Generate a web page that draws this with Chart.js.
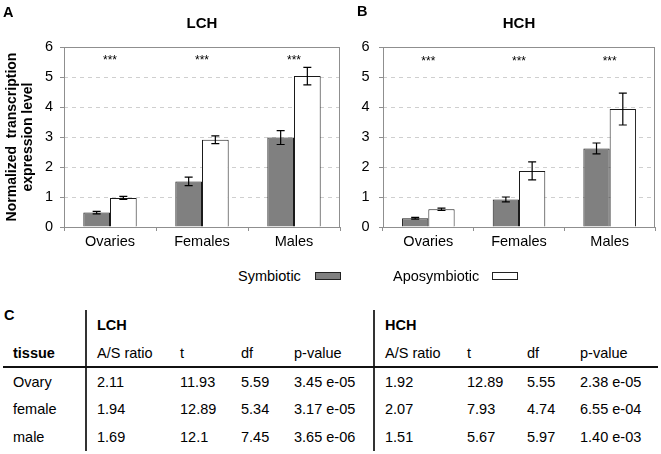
<!DOCTYPE html>
<html>
<head>
<meta charset="utf-8">
<script src="https://cdn.jsdelivr.net/npm/chart.js@4.4.0/dist/chart.umd.min.js"></script>
<style>
  body {
    margin: 0;
    width: 661px;
    height: 454px;
    background: #fff;
    position: relative;
    overflow: hidden;
    font-family: "Liberation Sans", Arial, sans-serif;
    color: #000;
  }
  canvas { position: absolute; top: 0; }
  .t { position: absolute; font-size: 14.5px; line-height: 18px; white-space: nowrap; }
  .b { font-weight: bold; }
  .rule { position: absolute; background: #222; }
  .box { position: absolute; width: 26px; height: 8px; border: 1px solid #222; box-sizing: border-box; }
</style>
</head>
<body>
<canvas id="chartA" width="345" height="260" style="left:0"></canvas>
<canvas id="chartB" width="341" height="260" style="left:320px"></canvas>
<div id="extras"></div>

<script>
const categories = ["Ovaries", "Females", "Males"];
const seriesNames = ["Symbiotic", "Aposymbiotic"];
const significance = ["***", "***", "***"];

// LCH panel
const lchSymbiotic = [0.48, 1.52, 2.98];
const lchSymbioticErr = [0.04, 0.14, 0.23];
const lchAposymbiotic = [0.97, 2.91, 5.03];
const lchAposymbioticErr = [0.05, 0.13, 0.29];

// HCH panel
const hchSymbiotic = [0.29, 0.92, 2.62];
const hchSymbioticErr = [0.03, 0.08, 0.18];
const hchAposymbiotic = [0.59, 1.87, 3.93];
const hchAposymbioticErr = [0.04, 0.3, 0.53];

const yMin = 0;
const yMax = 6;
const yStep = 1;

// table C
const tableGroups = ["LCH", "HCH"];
const tableColumns = ["A/S ratio", "t", "df", "p-value"];
const tissues = ["Ovary", "female", "male"];
const lchStats = [
  ["2.11", "11.93", "5.59", "3.45 e-05"],
  ["1.94", "12.89", "5.34", "3.17 e-05"],
  ["1.69", "12.1", "7.45", "3.65 e-06"],
];
const hchStats = [
  ["1.92", "12.89", "5.55", "2.38 e-05"],
  ["2.07", "7.93", "4.74", "6.55 e-04"],
  ["1.51", "5.67", "5.97", "1.40 e-03"],
];

const FONT = '"Liberation Sans", Arial, sans-serif';

// error bars from dataset.errors
const errorBars = {
  id: "errorBars",
  afterDatasetsDraw(chart) {
    const ctx = chart.ctx;
    const yScale = chart.scales.y;
    ctx.save();
    ctx.strokeStyle = "#000";
    ctx.lineWidth = 1.2;
    chart.data.datasets.forEach((ds, i) => {
      chart.getDatasetMeta(i).data.forEach((bar, j) => {
        const v = ds.data[j];
        const e = ds.errors[j];
        const top = yScale.getPixelForValue(v + e);
        const bot = yScale.getPixelForValue(v - e);
        ctx.beginPath();
        ctx.moveTo(bar.x, top);
        ctx.lineTo(bar.x, bot);
        ctx.moveTo(bar.x - 4, top);
        ctx.lineTo(bar.x + 4, top);
        ctx.moveTo(bar.x - 4, bot);
        ctx.lineTo(bar.x + 4, bot);
        ctx.stroke();
      });
    });
    ctx.restore();
  },
};

// plot frame, panel title and significance stars
const panelDecor = {
  id: "panelDecor",
  afterDraw(chart, args, opts) {
    const ctx = chart.ctx;
    const a = chart.chartArea;
    ctx.save();
    ctx.strokeStyle = "#8f8f8f";
    ctx.lineWidth = 1;
    ctx.strokeRect(a.left + 0.5, a.top + 0.5, a.right - a.left - 1, a.bottom - a.top);

    ctx.fillStyle = "#000";
    ctx.textAlign = "center";
    ctx.textBaseline = "middle";
    ctx.font = "bold 15px " + FONT;
    ctx.fillText(opts.text, (a.left + a.right) / 2, 24);

    ctx.font = "12px " + FONT;
    ctx.textBaseline = "alphabetic";
    significance.forEach((s, i) => {
      ctx.fillText(s, chart.scales.x.getPixelForValue(i), opts.starY);
    });
    ctx.restore();
  },
};

function makeChart(id, title, symb, symbErr, apo, apoErr, axisWidth, tickPad, padRight, yTitle, starY) {
  return new Chart(document.getElementById(id), {
    type: "bar",
    data: {
      labels: categories,
      datasets: [
        {
          label: seriesNames[0],
          data: symb,
          errors: symbErr,
          backgroundColor: "#808080",
          borderColor: "#1a1a1a",
          borderWidth: 1,
        },
        {
          label: seriesNames[1],
          data: apo,
          errors: apoErr,
          backgroundColor: "#ffffff",
          borderColor: "#1a1a1a",
          borderWidth: 1,
        },
      ],
    },
    options: {
      responsive: false,
      animation: false,
      layout: { padding: { top: 47, right: padRight, left: 0, bottom: 0 } },
      datasets: { bar: { categoryPercentage: 0.58, barPercentage: 1 } },
      plugins: {
        legend: { display: false },
        tooltip: { enabled: false },
        panelDecor: { text: title, starY: starY },
      },
      scales: {
        x: {
          grid: { offset: true, drawOnChartArea: false, tickLength: 4, color: "#8f8f8f" },
          border: { display: false },
          ticks: { color: "#000", font: { size: 14.5, family: FONT }, padding: 2 },
          afterFit: (s) => { s.height = 33; },
        },
        y: {
          min: yMin,
          max: yMax,
          ticks: { stepSize: yStep, color: "#000", font: { size: 14.5, family: FONT }, padding: tickPad },
          grid: { color: "#cfcfcf", tickColor: "#8f8f8f", tickLength: 4, tickBorderDash: [] },
          border: { display: false, dash: [4, 4] },
          title: yTitle
            ? {
                display: true,
                text: yTitle,
                color: "#000",
                font: { size: 14, weight: "bold", family: FONT, lineHeight: 1.15 },
                padding: { top: 4, bottom: 0 },
              }
            : { display: false },
          afterFit: (s) => { s.width = axisWidth; },
        },
      },
    },
    plugins: [errorBars, panelDecor],
  });
}

makeChart("chartA", "LCH", lchSymbiotic, lchSymbioticErr, lchAposymbiotic, lchAposymbioticErr,
  64, 7, 5, ["Normalized  transcription", "expression level"], 63.5);
makeChart("chartB", "HCH", hchSymbiotic, hchSymbioticErr, hchAposymbiotic, hchAposymbioticErr,
  63, 9.5, 6, null, 65);

// html bits: panel letters, legend, table
const extras = document.getElementById("extras");

function addText(txt, left, centerY, bold) {
  const d = document.createElement("div");
  d.className = "t" + (bold ? " b" : "");
  d.textContent = txt;
  d.style.left = left + "px";
  d.style.top = centerY - 9 + "px";
  extras.appendChild(d);
  return d;
}

function addRule(left, top, width, height, color) {
  const d = document.createElement("div");
  d.className = "rule";
  d.style.left = left + "px";
  d.style.top = top + "px";
  d.style.width = width + "px";
  d.style.height = height + "px";
  if (color) d.style.background = color;
  extras.appendChild(d);
}

addText("A", 3, 12, true);
addText("B", 357, 11, true);

// legend
addText(seriesNames[0], 238, 276);
addText(seriesNames[1], 393, 276);
const legendFills = ["#808080", "#ffffff"];
[315, 492].forEach((x, i) => {
  const b = document.createElement("div");
  b.className = "box";
  b.style.left = x + "px";
  b.style.top = "272px";
  b.style.background = legendFills[i];
  extras.appendChild(b);
});

// table C
addText("C", 4, 315, true);
addRule(85, 310, 1.5, 141, "#333");
addRule(373, 310, 1.5, 141, "#333");
addRule(3, 366, 655, 2, "#111");

const groupLefts = [97, 385];
const colLefts = [[97, 180, 241, 294], [385, 467, 527, 580]];
const rowYs = [382, 409, 437];

tableGroups.forEach((g, i) => addText(g, groupLefts[i], 325, true));
addText("tissue", 13, 353, true);
colLefts.forEach((cols) => {
  tableColumns.forEach((c, k) => addText(c, cols[k], 353));
});
tissues.forEach((tis, r) => {
  addText(tis, 13, rowYs[r]);
  lchStats[r].forEach((v, k) => addText(v, colLefts[0][k], rowYs[r]));
  hchStats[r].forEach((v, k) => addText(v, colLefts[1][k], rowYs[r]));
});
</script>
</body>
</html>
